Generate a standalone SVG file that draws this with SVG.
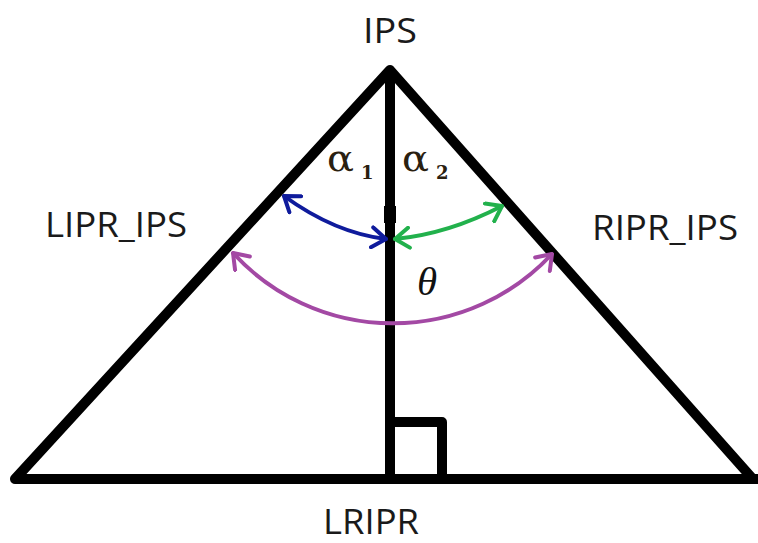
<svg xmlns="http://www.w3.org/2000/svg" width="758" height="543" viewBox="0 0 758 543">
<style>
.lbl{font-family:"Open Sans","Liberation Sans",Arial,sans-serif;font-size:35px;fill:#1a1a1a}
.gr{font-family:"DejaVu Serif","Liberation Serif",serif;fill:#2a2010}
.ln{stroke:#000;stroke-width:10;fill:none;stroke-linecap:round;stroke-linejoin:round}
.arc{fill:none;stroke-width:4;stroke-linecap:round}
</style>
<defs>
<marker id="mb" viewBox="-16 -12 18 24" markerUnits="userSpaceOnUse" markerWidth="18" markerHeight="24" refX="0" refY="0" orient="auto-start-reverse">
<path d="M-14,-10 L0,0 L-14,10" fill="none" stroke="#0f1b9c" stroke-width="4" stroke-linecap="round" stroke-linejoin="round"/>
</marker>
<marker id="mg" viewBox="-16 -12 18 24" markerUnits="userSpaceOnUse" markerWidth="18" markerHeight="24" refX="0" refY="0" orient="auto-start-reverse">
<path d="M-14,-10 L0,0 L-14,10" fill="none" stroke="#22b14c" stroke-width="4" stroke-linecap="round" stroke-linejoin="round"/>
</marker>
<marker id="mp" viewBox="-16 -12 18 24" markerUnits="userSpaceOnUse" markerWidth="18" markerHeight="24" refX="0" refY="0" orient="auto-start-reverse">
<path d="M-14,-10 L0,0 L-14,10" fill="none" stroke="#a349a4" stroke-width="4" stroke-linecap="round" stroke-linejoin="round"/>
</marker>
</defs>
<rect width="758" height="543" fill="#fff"/>
<g id="triangle">
<path class="ln" d="M390,70 L15,479 L758,479 M390,70 L752,478 M390,70 L390,479"/>
<path class="ln" d="M390,422 L442,422 L442,479" stroke-linecap="butt"/>
<rect x="384" y="206" width="12" height="17" fill="#000"/>
</g>
<g id="connectors">
<path class="arc" stroke="#0f1b9c" d="M284,196 Q335,233 386,239" marker-start="url(#mb)" marker-end="url(#mb)"/>
<path class="arc" stroke="#22b14c" d="M395,239 Q448,234 502,206" marker-start="url(#mg)" marker-end="url(#mg)"/>
<path class="arc" stroke="#a349a4" d="M233,253 A217,217 0 0 0 552,254" marker-start="url(#mp)" marker-end="url(#mp)"/>
</g>
<g id="IPS"><text class="lbl" x="390" y="43" text-anchor="middle" textLength="54" lengthAdjust="spacingAndGlyphs">IPS</text></g>
<g id="LIPR_IPS"><text class="lbl" x="45" y="237" textLength="142" lengthAdjust="spacingAndGlyphs">LIPR_IPS</text></g>
<g id="RIPR_IPS"><text class="lbl" x="592" y="240" textLength="146" lengthAdjust="spacingAndGlyphs">RIPR_IPS</text></g>
<g id="LRIPR"><text class="lbl" x="323" y="534" textLength="96" lengthAdjust="spacingAndGlyphs">LRIPR</text></g>
<g id="alpha1"><text class="gr" x="327" y="171" font-size="38" textLength="27" lengthAdjust="spacingAndGlyphs">α</text><text class="gr" x="361" y="179" font-size="18" font-weight="bold">1</text></g>
<g id="alpha2"><text class="gr" x="402" y="171" font-size="38" textLength="27" lengthAdjust="spacingAndGlyphs">α</text><text class="gr" x="436" y="179" font-size="18" font-weight="bold">2</text></g>
<g id="theta"><text x="417" y="295" font-family="'Liberation Serif',serif" font-style="italic" font-size="41" fill="#111">θ</text></g>
</svg>
